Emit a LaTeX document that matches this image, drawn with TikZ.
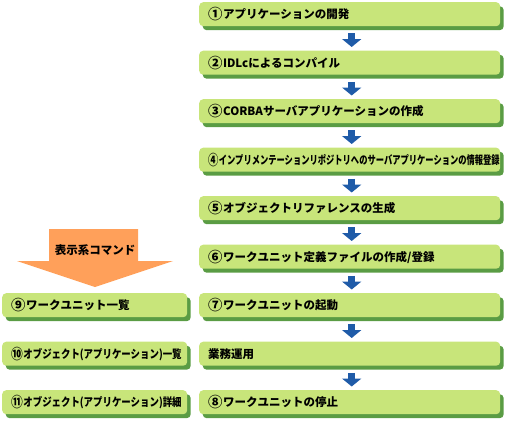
\documentclass[tikz,border=0pt]{standalone}
\usepackage{fontspec}
\setmainfont{Noto Sans CJK JP}
\usetikzlibrary{shadows,arrows.meta}
\definecolor{boxgreen}{HTML}{C8E57A}
\definecolor{shadowgreen}{HTML}{5A9C44}
\definecolor{arrowblue}{HTML}{1F5BA8}
\definecolor{cmdorange}{HTML}{FFA05A}
\newcommand{\circnum}[1]{\raisebox{-0.12ex}{\scalebox{1.25}{#1}}\hspace{0.5pt}}
\tikzset{
  stepbox/.style={rectangle, rounded corners=4pt, fill=boxgreen, anchor=north west,
    minimum height=24pt, inner ysep=0pt, inner xsep=9pt, align=left,
    font=\fontsize{11.5}{13}\selectfont\bfseries,
    drop shadow={shadow xshift=3.5pt, shadow yshift=-4pt, fill=shadowgreen, opacity=1}},
  rightbox/.style={stepbox, text width=283pt},
  leftbox/.style={stepbox, text width=167pt},
  flowarrow/.style={arrowblue, line width=7pt, -{Triangle[width=19pt,length=8pt]}},
}
\begin{document}
\begin{tikzpicture}[x=1pt,y=-1pt]
\useasboundingbox (0,0) rectangle (506,421);
% right column
\node[rightbox] (s1) at (199,2)     {\circnum{①}アプリケーションの開発};
\node[rightbox] (s2) at (199,50.5)  {\circnum{②}IDLcによるコンパイル};
\node[rightbox] (s3) at (199,99)    {\circnum{③}CORBAサーバアプリケーションの作成};
\node[rightbox] (s4) at (199,147.5) {\scalebox{0.72}[1]{\circnum{④}インプリメンテーションリポジトリへのサーバアプリケーションの情報登録}};
\node[rightbox] (s5) at (199,196)   {\circnum{⑤}オブジェクトリファレンスの生成};
\node[rightbox] (s6) at (199,244.5) {\circnum{⑥}ワークユニット定義ファイルの作成/登録};
\node[rightbox] (s7) at (199,293)   {\circnum{⑦}ワークユニットの起動};
\node[rightbox] (s8) at (199,341.5) {業務運用};
\node[rightbox] (s9) at (199,390)   {\circnum{⑧}ワークユニットの停止};
% left column
\node[leftbox] (c1) at (2,293)   {\circnum{⑨}ワークユニット一覧};
\node[leftbox] (c2) at (2,341.5) {\scalebox{0.82}[1]{\circnum{⑩}オブジェクト(アプリケーション)一覧}};
\node[leftbox] (c3) at (2,390)   {\scalebox{0.82}[1]{\circnum{⑪}オブジェクト(アプリケーション)詳細}};
% arrows
\foreach \a/\b in {s1/s2,s2/s3,s3/s4,s4/s5,s5/s6,s6/s7,s7/s8,s8/s9}
  \draw[flowarrow] ([xshift=2pt,yshift=-7pt]\a.south) -- ([xshift=2pt,yshift=3.5pt]\b.north);
% orange command arrow
\fill[cmdorange] (49,229) -- (138,229) -- (138,261) -- (173,261) -- (95,287)
  -- (17,261) -- (49,261) -- cycle;
\node[font=\fontsize{11.5}{13}\selectfont\bfseries] (cmd) at (95,250) {表示系コマンド};
\end{tikzpicture}
\end{document}
